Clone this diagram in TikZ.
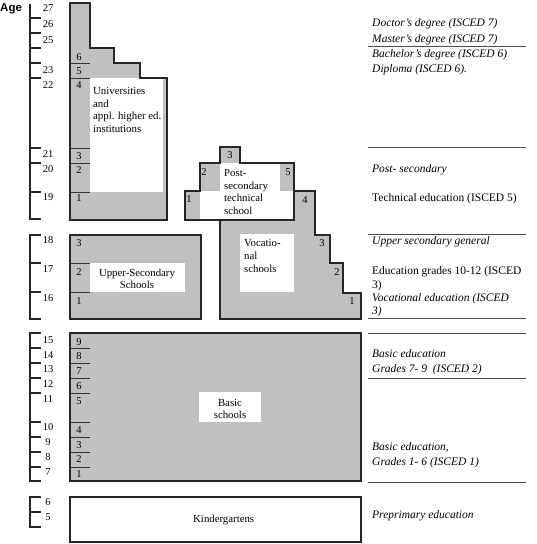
\documentclass[tikz,border=0pt]{standalone}
\usepackage{fontspec}
\setmainfont{Liberation Serif}
\setsansfont{Liberation Sans}
\usetikzlibrary{positioning}

\definecolor{schoolgray}{RGB}{192,192,192}

\begin{document}
\begin{tikzpicture}[x=1pt, y=-1pt,
                    outline/.style={draw=black!85, line width=1.3pt},
                    sep line/.style={draw=black!80, line width=0.9pt},
                    axis/.style={draw=black!85, line width=1.3pt},
                    rule/.style={draw=black!70, line width=1pt},
                    white box/.style={fill=white, inner sep=0pt, anchor=north west},
                    num/.style={font=\fontsize{10.5}{12}\selectfont, inner sep=0pt},
                    box text/.style={font=\fontsize{10.8}{12.6}\selectfont,
                      inner sep=0pt, align=left},
                    note/.style={font=\fontsize{11.5}{15}\selectfont\itshape,
                      inner sep=0pt, anchor=west, align=left},
                    plain note/.style={note, font=\fontsize{11.5}{14}\selectfont}]

  \path[use as bounding box] (0,0) rectangle (537,544);

  % age scale
  \node[font=\sffamily\bfseries\fontsize{11.5}{13}\selectfont, inner sep=0pt,
        anchor=west] (age) at (0,9) {Age};
  \draw[axis] (30,4) -- (30,219) -- (41,219);
  \draw[axis] (41,235) -- (30,235) -- (30,319) -- (41,319);
  \draw[axis] (41,333) -- (30,333) -- (30,481) -- (41,481);
  \draw[axis] (41,497) -- (30,497) -- (30,527) -- (41,527);
  \foreach \y in {18,33,48,63,78,148,163,192,263,292,348,363,378,393,422,437,452,467,512}
    \draw[axis] (30,\y) -- (41,\y);
  \foreach \a/\y in {27/8,26/24,25/40,23/70,22/85,21/154,20/169,19/197,
                     18/240,17/269,16/298,15/340,14/355,13/369,12/384,11/399,
                     10/427,9/442,8/457,7/472,6/502,5/517}
    \node[num] (a\a) at (48,\y) {\a};

  % gray blocks
  \fill[schoolgray] (70,3) -- (90,3) -- (90,48) -- (114,48) -- (114,63) -- (140,63)
    -- (140,78) -- (167,78) -- (167,220) -- (70,220) -- cycle;
  \fill[schoolgray] (185,191) -- (200,191) -- (200,163) -- (220,163) -- (220,147)
    -- (240,147) -- (240,163) -- (294,163) -- (294,220) -- (185,220) -- cycle;
  \fill[schoolgray] (220,220) -- (294,220) -- (294,191) -- (315,191) -- (315,235)
    -- (330,235) -- (330,263) -- (343,263) -- (343,293) -- (361,293) -- (361,319)
    -- (220,319) -- cycle;
  \fill[schoolgray] (70,235) rectangle (201,319);
  \fill[schoolgray] (70,333) rectangle (361,481);

  % white label boxes
  \node[white box, minimum width=73pt, minimum height=114pt] (univ box) at (90,78) {};
  \node[white box, minimum width=60pt, minimum height=28pt] (post box) at (220,163) {};
  \node[white box, minimum width=94pt, minimum height=29pt] (tech box) at (200,191) {};
  \node[white box, minimum width=54pt, minimum height=58pt] (voc box) at (240,234) {};
  \node[white box, minimum width=95pt, minimum height=29pt] (upper box) at (90,263) {};
  \node[white box, minimum width=62pt, minimum height=30pt] (basic box) at (199,392) {};

  % grade cells
  \foreach \y in {63,78,148,163,192,263,292,348,363,378,393,422,437,452,467}
    \draw[sep line] (70,\y) -- (90,\y);

  % outlines
  \draw[outline] (70,3) -- (90,3) -- (90,48) -- (114,48) -- (114,63) -- (140,63)
    -- (140,78) -- (167,78) -- (167,220) -- (70,220) -- cycle;
  \draw[outline] (185,191) -- (200,191) -- (200,163) -- (220,163) -- (220,147)
    -- (240,147) -- (240,163) -- (294,163) -- (294,220) -- (185,220) -- cycle;
  \draw[outline] (220,220) -- (294,220) -- (294,191) -- (315,191) -- (315,235)
    -- (330,235) -- (330,263) -- (343,263) -- (343,293) -- (361,293) -- (361,319)
    -- (220,319) -- cycle;
  \draw[outline] (70,235) rectangle (201,319);
  \draw[outline] (70,333) rectangle (361,481);
  \draw[outline, fill=white] (70,497) rectangle (361,542);

  % grade numbers
  \foreach \n/\y in {6/57,5/71,4/85,3/156,2/170,1/198}
    \node[num] (u\n) at (79,\y) {\n};
  \foreach \n/\y in {3/243,2/272,1/301}
    \node[num] (s\n) at (79,\y) {\n};
  \foreach \n/\y in {9/342,8/356,7/371,6/386,5/401,4/430,3/445,2/459,1/474}
    \node[num] (b\n) at (79,\y) {\n};
  \node[num] (p3) at (230,155) {3};
  \node[num] (p2) at (204,172) {2};
  \node[num] (p1) at (189,199) {1};
  \node[num] (p5) at (288,172) {5};
  \node[num] (v4) at (305,200) {4};
  \node[num] (v3) at (322,243) {3};
  \node[num] (v2) at (337,272) {2};
  \node[num] (v1) at (352,301) {1};

  % school names
  \node[box text, anchor=west] (univ) at (93,110)
    {Universities\\and\\appl. higher ed.\\institutions};
  \node[box text, anchor=west] (tech) at (224,192)
    {Post-\\secondary\\technical\\school};
  \node[box text, anchor=west] (voc) at (244,256) {Vocatio-\\nal\\schools};
  \node[box text, align=center] (upper) at (137,279) {Upper-Secondary\\Schools};
  \node[box text, align=center] (basic) at (230,409) {Basic\\schools};
  \node[box text, anchor=west] (kinder) at (193,520) {Kindergartens};

  % levels
  \foreach \y in {46,147,234,318,333,378,482}
    \draw[rule] (368,\y) -- (526,\y);
  \node[note, font=\fontsize{11.5}{16}\selectfont\itshape] (doctor) at (372,32)
    {Doctor's degree (ISCED 7)\\Master's degree (ISCED 7)};
  \node[note] (bachelor) at (372,62.5)
    {Bachelor's degree (ISCED 6)\\Diploma (ISCED 6).};
  \node[note] (postsec) at (372,170) {Post- secondary};
  \node[plain note] (techedu) at (372,199) {Technical education (ISCED 5)};
  \node[note] (general) at (372,242) {Upper secondary general};
  \node[plain note] (grades) at (372,279) {Education grades 10-12 (ISCED\\3)};
  \node[note, font=\fontsize{11.5}{13}\selectfont\itshape] (vocedu) at (372,305.5)
    {Vocational education (ISCED\\3)};
  \node[note] (basic2) at (372,362.5) {Basic education\\Grades 7- 9 \ (ISCED 2)};
  \node[note] (basic1) at (372,455) {Basic education,\\Grades 1- 6 (ISCED 1)};
  \node[note] (preprim) at (372,516) {Preprimary education};
\end{tikzpicture}
\end{document}
